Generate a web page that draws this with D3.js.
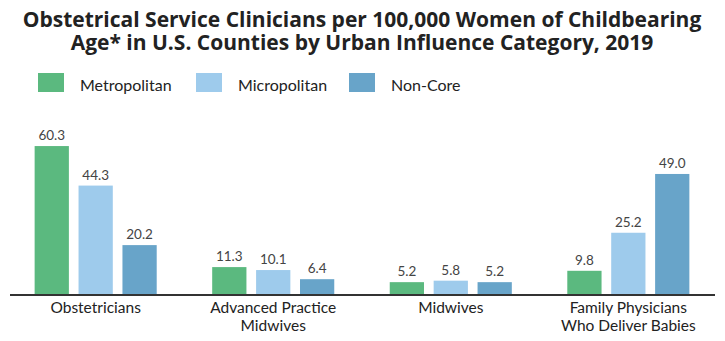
<!DOCTYPE html>
<html>
<head>
<meta charset="utf-8">
<script src="https://cdn.jsdelivr.net/npm/d3@7"></script>
<style>
  body { margin: 0; background: #fff; }
  svg { display: block; }
</style>
</head>
<body>
<div id="chart"></div>
<script>
// Data
const categories = [["Obstetricians"], ["Advanced Practice", "Midwives"], ["Midwives"], ["Family Physicians", "Who Deliver Babies"]];
const seriesNames = ["Metropolitan", "Micropolitan", "Non-Core"];
const metropolitan = [60.3, 11.3, 5.2, 9.8];
const micropolitan = [44.3, 10.1, 5.8, 25.2];
const nonCore = [20.2, 6.4, 5.2, 49.0];
const colors = ["#5bb97f", "#9ecbec", "#68a4c9"];

const seriesValues = [metropolitan, micropolitan, nonCore];
const width = 725, height = 341;

const svg = d3.select("#chart").append("svg")
    .attr("width", width)
    .attr("height", height);

// Title
const title = svg.append("text")
    .attr("text-anchor", "middle")
    .attr("font-family", "'Open Sans', sans-serif")
    .attr("font-weight", 700)
    .attr("font-size", 21)
    .attr("fill", "#222");
title.append("tspan").attr("x", 362).attr("y", 27)
    .text("Obstetrical Service Clinicians per 100,000 Women of Childbearing");
title.append("tspan").attr("x", 362).attr("y", 50)
    .text("Age* in U.S. Counties by Urban Influence Category, 2019");

// Legend
const legendX = [38, 196, 349];
const legend = svg.append("g");
seriesNames.forEach((name, i) => {
    legend.append("rect")
        .attr("x", legendX[i]).attr("y", 73)
        .attr("width", 26).attr("height", 19)
        .attr("fill", colors[i]);
    legend.append("text")
        .attr("x", legendX[i] + 42).attr("y", 91)
        .attr("font-family", "Lato, sans-serif")
        .attr("font-size", 16)
        .attr("fill", "#222")
        .text(name);
});

// Scales
const baseline = 295;
const x0 = d3.scaleBand()
    .domain(d3.range(categories.length))
    .range([8, 716])
    .paddingInner(0.3125)
    .paddingOuter(0.15);

const x1 = d3.scaleBand()
    .domain(d3.range(seriesNames.length))
    .range([0, x0.bandwidth()])
    .paddingInner(0.22)
    .paddingOuter(0);

const y = d3.scaleLinear()
    .domain([0, 65])
    .range([baseline, baseline - 65 * 2.47]);

// Bars
const groups = svg.selectAll("g.group")
    .data(categories)
    .join("g")
    .attr("class", "group")
    .attr("transform", (d, i) => `translate(${x0(i)},0)`);

groups.each(function (cat, ci) {
    const g = d3.select(this);
    const vals = seriesValues.map(s => s[ci]);
    g.selectAll("rect")
        .data(vals)
        .join("rect")
        .attr("x", (d, i) => x1(i))
        .attr("y", d => y(d))
        .attr("width", x1.bandwidth())
        .attr("height", d => baseline - y(d))
        .attr("fill", (d, i) => colors[i]);
    g.selectAll("text.val")
        .data(vals)
        .join("text")
        .attr("class", "val")
        .attr("x", (d, i) => x1(i) + x1.bandwidth() / 2)
        .attr("y", d => y(d) - 6)
        .attr("text-anchor", "middle")
        .attr("font-family", "Lato, sans-serif")
        .attr("font-size", 13.5)
        .attr("fill", "#444")
        .text(d => d.toFixed(1));
});

// Axis line
svg.append("line")
    .attr("x1", 10).attr("x2", 715)
    .attr("y1", baseline).attr("y2", baseline)
    .attr("stroke", "#333")
    .attr("stroke-width", 2);

// Category labels
categories.forEach((lines, i) => {
    const t = svg.append("text")
        .attr("text-anchor", "middle")
        .attr("font-family", "Lato, sans-serif")
        .attr("font-size", 15.5)
        .attr("fill", "#222");
    lines.forEach((line, j) => {
        t.append("tspan")
            .attr("x", x0(i) + x0.bandwidth() / 2)
            .attr("y", 313 + j * 17.5)
            .text(line);
    });
});
</script>
</body>
</html>
